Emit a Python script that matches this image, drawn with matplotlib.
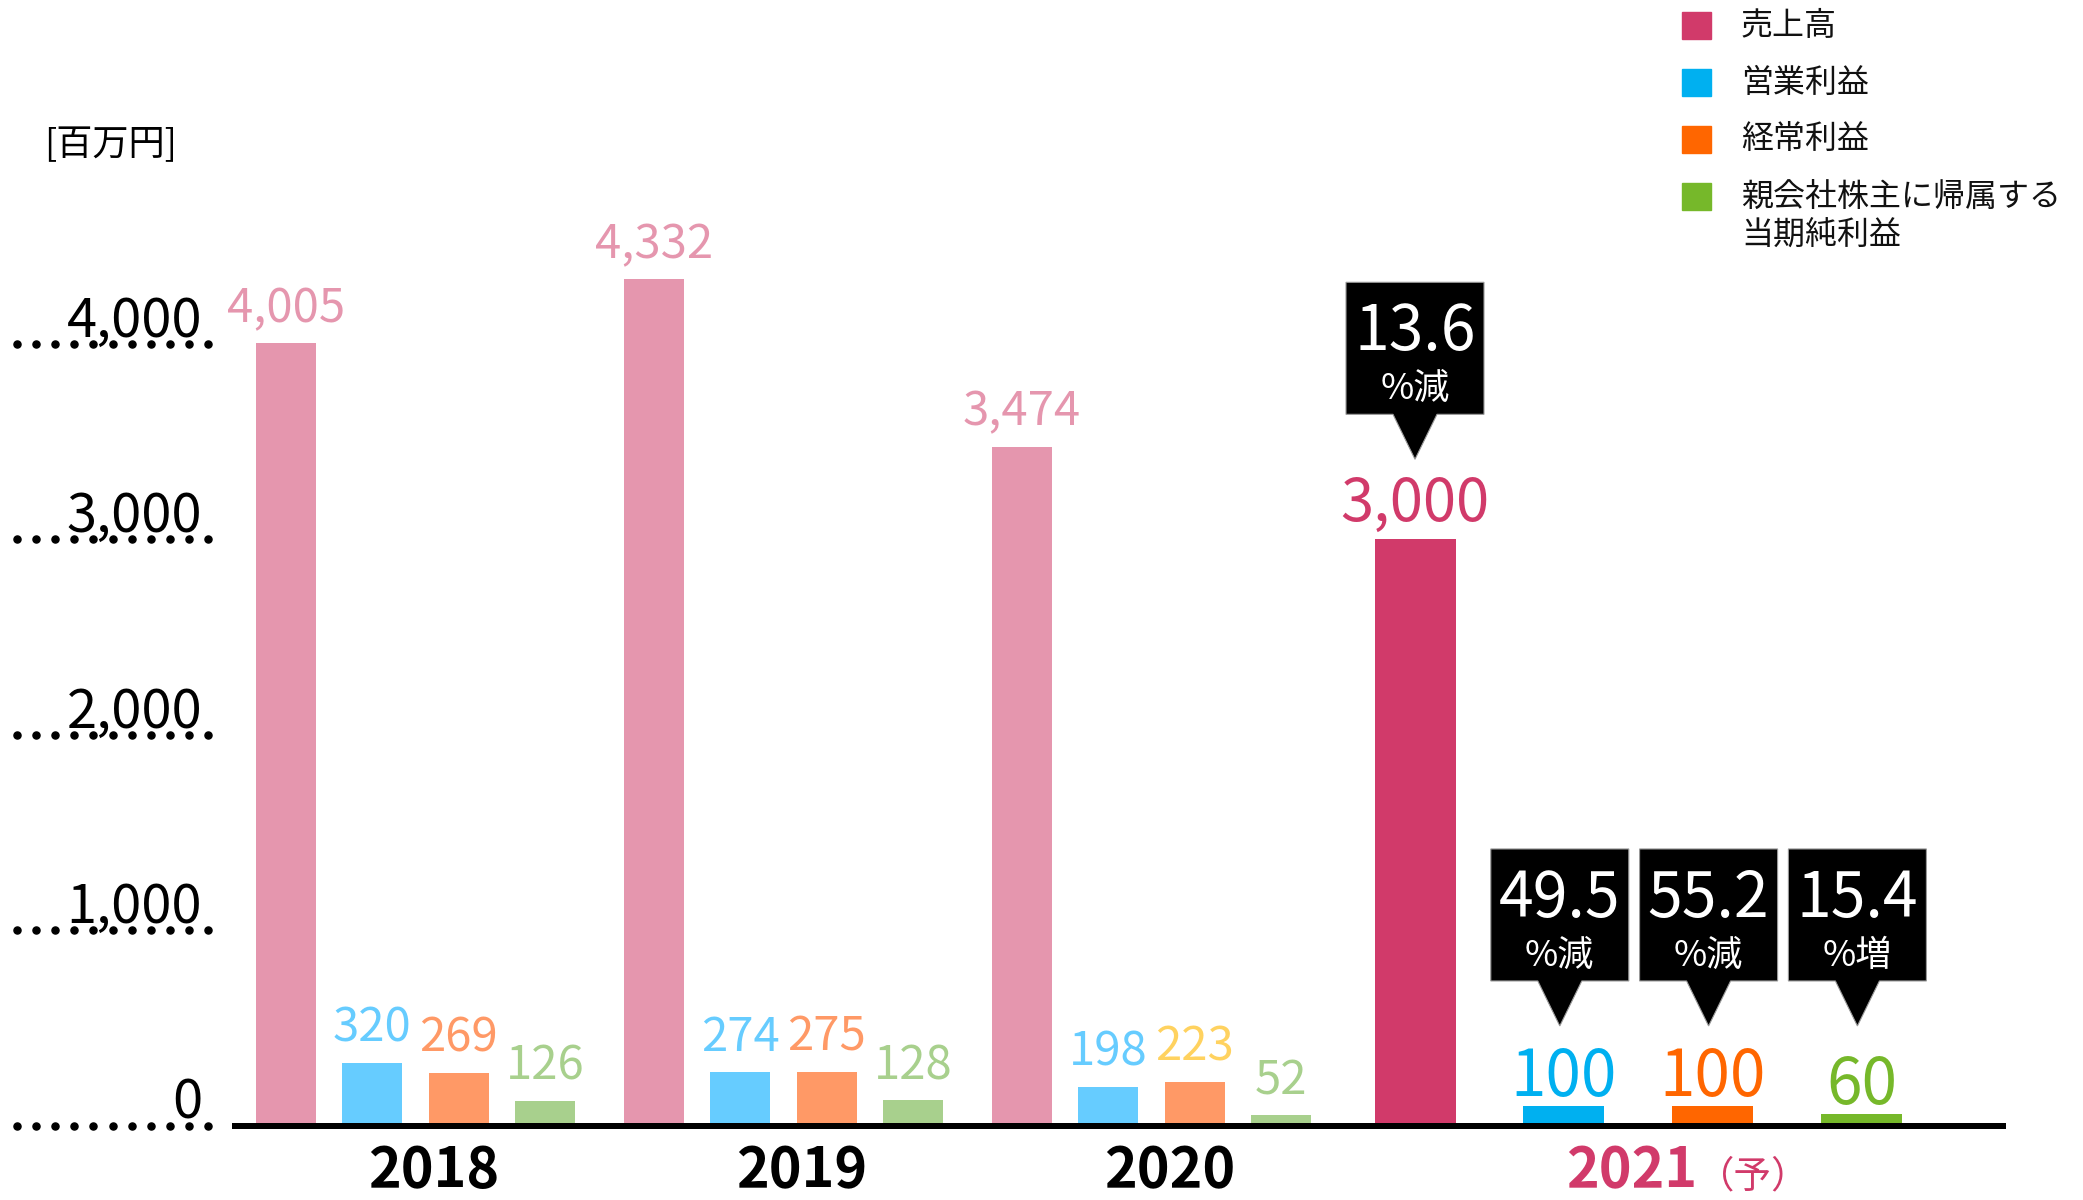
import numpy as np
import matplotlib.pyplot as plt
from matplotlib.patches import Polygon, Rectangle

plt.rcParams['font.family'] = ['Noto Sans CJK JP', 'DejaVu Sans']

# data
years = ['2018', '2019', '2020']
sales = [4005, 4332, 3474]
op_profit = [320, 274, 198]
ord_profit = [269, 275, 223]
net_profit = [126, 128, 52]

forecast_year = '2021'
forecast_suffix = '（予）'
forecast = [3000, 100, 100, 60]
forecast_change = ['13.6', '49.5', '55.2', '15.4']
forecast_change_word = ['%減', '%減', '%減', '%増']

series_names = ['売上高', '営業利益', '経常利益', '親会社株主に帰属する\n当期純利益']
y_ticks = [0, 1000, 2000, 3000, 4000]
unit_label = '[百万円]'

# colours
past_colors = ['#E596AE', '#66CCFF', '#FF9966', '#A8D08D']
past_label_colors = [past_colors, past_colors,
                     ['#E596AE', '#66CCFF', '#FFD25F', '#A8D08D']]
forecast_colors = ['#D13A6A', '#00B0F0', '#FF6600', '#76B82A']

# layout: pixel based canvas, y in values
W, H = 2083, 1200
Y0 = 1125.5      # pixel row of value 0
S = 0.1954       # pixels per unit


def yv(py):
    return (Y0 - py) / S


def px2pt(p):
    return p * 72 / 100


fig = plt.figure(figsize=(W / 100, H / 100), dpi=100)
ax = fig.add_axes([0, 0, 1, 1])
ax.set_xlim(0, W)
ax.set_ylim(yv(H), yv(0))
ax.axis('off')

# past years bars
past = np.array([sales, op_profit, ord_profit, net_profit]).T
for i, year in enumerate(years):
    xs = 286 + i * 368 + np.arange(4) * 86.3
    ax.bar(xs, past[i], width=60, color=past_colors, zorder=2)
    for j in range(4):
        ax.annotate(f'{past[i][j]:,}', (xs[j], past[i][j]), xytext=(0, px2pt(21)),
                    textcoords='offset points', ha='center', va='baseline',
                    fontsize=34, color=past_label_colors[i][j])
    ax.text(434 + i * 368, yv(1187), year, fontsize=40, fontweight='bold',
            ha='center', va='baseline', color='black')

# forecast bars
fx = 1415 + np.arange(4) * 148.8
ax.bar(fx, forecast, width=81, color=forecast_colors, zorder=2)
for j in range(4):
    gap = 18 if j == 0 else 10
    ax.annotate(f'{forecast[j]:,}', (fx[j], forecast[j]), xytext=(0, px2pt(gap)),
                textcoords='offset points', ha='center', va='baseline',
                fontsize=43 if j == 0 else 46, color=forecast_colors[j])
ax.text(1697, yv(1187), forecast_year, fontsize=40, fontweight='bold',
        ha='right', va='baseline', color=forecast_colors[0])
ax.text(1697, yv(1187), forecast_suffix, fontsize=27,
        ha='left', va='baseline', color=forecast_colors[0])


def callout(xc, tip_py, big, small):
    bw, bh, pw, ph = 138, 132, 44, 45
    bot = tip_py - ph
    top = bot - bh
    pts = [(xc - bw / 2, top), (xc + bw / 2, top), (xc + bw / 2, bot),
           (xc + pw / 2, bot), (xc, tip_py), (xc - pw / 2, bot), (xc - bw / 2, bot)]
    ax.add_patch(Polygon([(x, yv(p)) for x, p in pts], closed=True,
                         fc='black', ec='#999999', lw=0.8, zorder=4))
    ax.text(xc, yv(top + 68), big, color='white', fontsize=45,
            ha='center', va='baseline', zorder=5)
    ax.text(xc, yv(top + 117), small, color='white', fontsize=26,
            ha='center', va='baseline', zorder=5)


callout(fx[0], Y0 - forecast[0] * S - 80, forecast_change[0], forecast_change_word[0])
small_tip = Y0 - max(forecast[1:]) * S - 80
for j in range(1, 4):
    callout(fx[j] - 4, small_tip, forecast_change[j], forecast_change_word[j])

# baseline
ax.plot([232, 2006], [0, 0], color='black', lw=px2pt(6), solid_capstyle='butt', zorder=3)

# y ticks with dotted leaders
dot_x = np.linspace(17, 208, 11)
for t in y_ticks:
    ax.scatter(dot_x, np.full(11, t), s=26, color='black', zorder=2, clip_on=False)
    ax.text(202, yv(Y0 - t * S - 7), f'{t:,}', fontsize=39, ha='right',
            va='baseline', color='black', zorder=3)

ax.text(111, yv(145), unit_label, fontsize=26, ha='center', va='center', color='black')

# legend
for k, (name, c) in enumerate(zip(series_names, forecast_colors)):
    cy = 25.5 + k * 57
    ax.add_patch(Rectangle((1682, yv(cy + 13.5)), 29, 27 / S, color=c))
    for m, line in enumerate(name.split('\n')):
        ax.text(1741, yv(cy + m * 38), line, fontsize=23, ha='left',
                va='center', color='#111111')

fig.savefig('out.png', dpi=100)
